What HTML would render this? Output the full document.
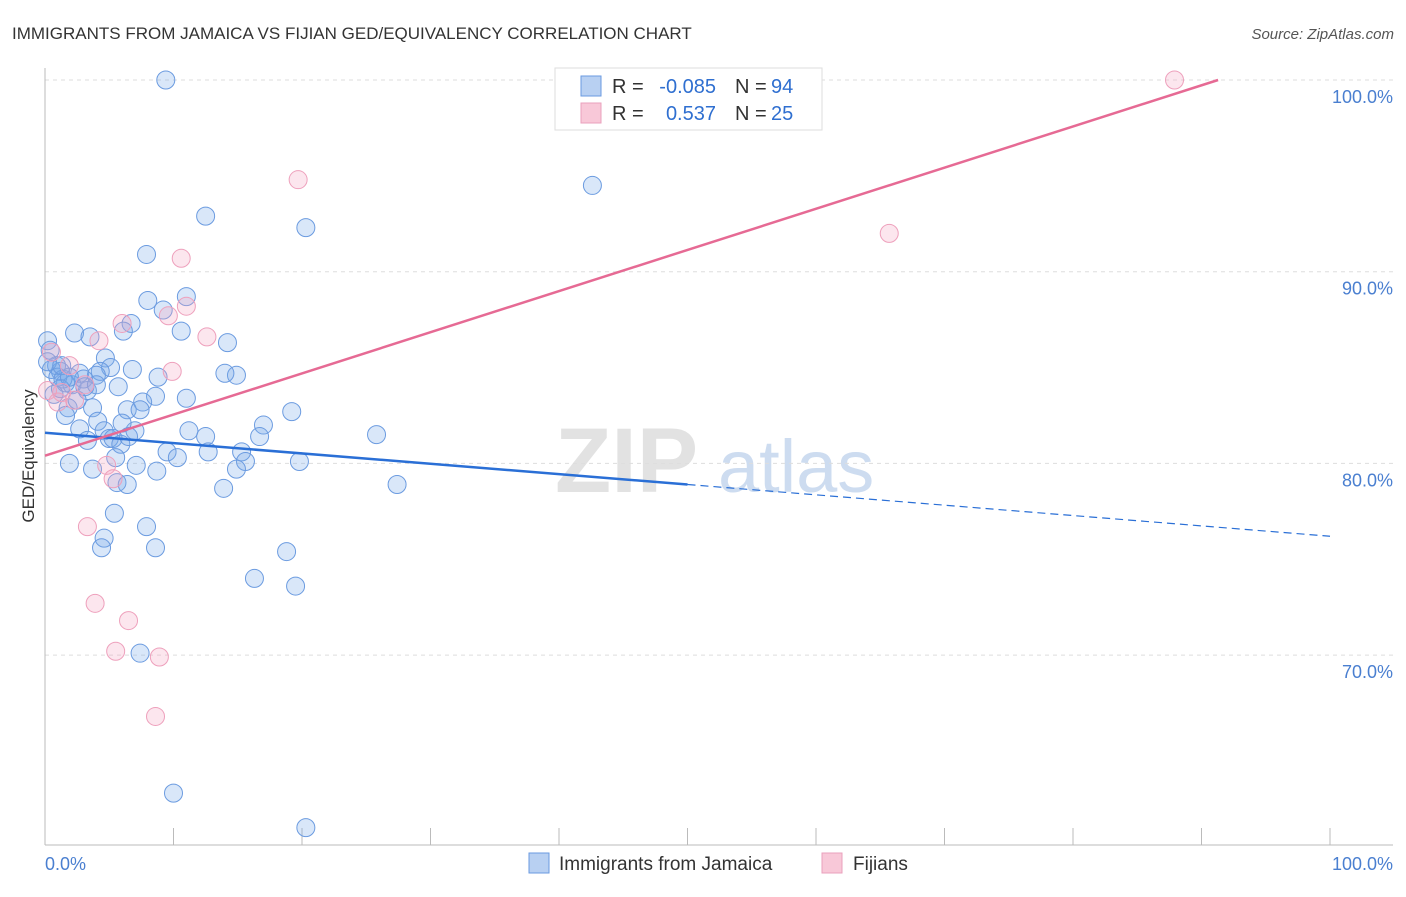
<!DOCTYPE html>
<html><head><meta charset="utf-8"><style>
body{margin:0;background:#fff;font-family:"Liberation Sans",sans-serif}
svg text{font-family:"Liberation Sans",sans-serif}
</style></head><body>
<svg id="c" width="1406" height="892" viewBox="0 0 1406 892">
<text x="12" y="39" font-size="17" fill="#333">IMMIGRANTS FROM JAMAICA VS FIJIAN GED/EQUIVALENCY CORRELATION CHART</text>
<text x="1394" y="39" font-size="15" fill="#555" font-style="italic" text-anchor="end">Source: ZipAtlas.com</text>
<text x="555" y="492" font-size="92" fill="#e2e2e2" font-weight="bold">ZIP</text>
<text x="718" y="492" font-size="74" fill="#cddcf0">atlas</text>
<g id="grid"></g><g id="axes"></g><g id="pts"></g><g id="lines"></g>
<text transform="translate(34,456) rotate(-90)" font-size="17" fill="#333" text-anchor="middle">GED/Equivalency</text>
<g>
<rect x="555" y="68" width="267" height="62" fill="#fff" stroke="#ddd"/>
<rect x="581" y="76" width="20" height="20" fill="#b8d0f2" stroke="#6a9ae0"/>
<rect x="581" y="103" width="20" height="20" fill="#f8c8d8" stroke="#eaa0bc"/>
<text x="612" y="93" font-size="20" fill="#333">R =</text>
<text x="716" y="93" font-size="20" fill="#2f6fd0" text-anchor="end">-0.085</text>
<text x="735" y="93" font-size="20" fill="#333">N =</text>
<text x="771" y="93" font-size="20" fill="#2f6fd0">94</text>
<text x="612" y="120" font-size="20" fill="#333">R =</text>
<text x="716" y="120" font-size="20" fill="#2f6fd0" text-anchor="end">0.537</text>
<text x="735" y="120" font-size="20" fill="#333">N =</text>
<text x="771" y="120" font-size="20" fill="#2f6fd0">25</text>
</g>
<g>
<rect x="529" y="853" width="20" height="20" fill="#b8d0f2" stroke="#6a9ae0"/>
<text x="559" y="870" font-size="19" fill="#333">Immigrants from Jamaica</text>
<rect x="822" y="853" width="20" height="20" fill="#f8c8d8" stroke="#eaa0bc"/>
<text x="853" y="870" font-size="19" fill="#333">Fijians</text>
</g>
</svg>
<script>
const blueX=[9.4,42.6,12.5,20.3,7.9,8.0,11.0,9.2,6.7,6.1,10.6,2.3,3.5,14.2,0.2,0.4,4.7,6.8,5.1,0.9,1.2,4.3,8.8,14.9,14.0,2.7,4.0,1.6,3.0,2.1,3.3,5.7,8.6,7.6,11.0,1.8,3.7,6.4,7.4,1.6,4.1,17.0,19.2,25.8,2.7,4.6,7.0,6.0,11.2,12.5,16.7,3.3,5.0,5.3,5.9,9.5,12.7,15.3,10.3,1.9,7.1,8.7,15.6,14.9,19.8,3.7,5.5,5.6,6.4,13.9,27.4,5.4,7.9,4.6,4.4,8.6,18.8,16.3,19.5,7.4,10.0,20.3,0.5,1.0,1.4,0.7,1.2,0.2,2.5,1.3,1.9,3.1,6.5,4.0];
const blueY=[100,94.5,92.9,92.3,90.9,88.5,88.7,88.0,87.3,86.9,86.9,86.8,86.6,86.3,86.4,85.9,85.5,84.9,85.0,85.1,84.8,84.8,84.5,84.6,84.7,84.7,84.6,84.2,84.4,84.1,83.8,84.0,83.5,83.2,83.4,82.9,82.9,82.8,82.8,82.5,82.2,82.0,82.7,81.5,81.8,81.7,81.7,82.1,81.7,81.4,81.4,81.2,81.3,81.3,81.0,80.6,80.6,80.6,80.3,80.0,79.9,79.6,80.1,79.7,80.1,79.7,80.3,79.0,78.9,78.7,78.9,77.4,76.7,76.1,75.6,75.6,75.4,74.0,73.6,70.1,62.8,61.0,84.9,84.5,84.4,83.6,83.9,85.3,83.3,85.1,84.5,84.0,81.4,84.1];
const pinkX=[87.9,19.7,65.7,10.6,11.0,9.6,6.0,12.6,4.2,0.5,9.9,1.9,3.1,1.3,0.2,2.3,1.0,4.8,5.3,3.3,3.9,6.5,5.5,8.9,8.6];
const pinkY=[100,94.8,92.0,90.7,88.2,87.7,87.3,86.6,86.4,85.8,84.8,85.1,84.1,83.7,83.8,83.3,83.2,79.9,79.2,76.7,72.7,71.8,70.2,69.9,66.8];
const blueTrend=[81.6,76.2];
const pinkTrend=[80.4,0.2147];
const yTicks=[100,90,80,70];
const yTickLabels=["100.0%","90.0%","80.0%","70.0%"];
const xTicks=[0,10,20,30,40,50,60,70,80,90,100];

const NS="http://www.w3.org/2000/svg";
const X=v=>45+v*12.85, Y=v=>80+(100-v)*19.17;
function mk(p,t,a){const e=document.createElementNS(NS,t);for(const k in a)e.setAttribute(k,a[k]);document.getElementById(p).appendChild(e);return e;}
yTicks.forEach((v,i)=>{
 const l=mk('grid','line',{x1:45,x2:1393,y1:Y(v),y2:Y(v),stroke:'#ddd','stroke-dasharray':'4,4'});
 
 
 const t=mk('grid','text',{x:1393,y:Y(v)+23,'font-size':18,fill:'#4a7fd0','text-anchor':'end'});
 t.textContent=yTickLabels[i];
 
 
});
const ax=mk('axes','line',{x1:45,x2:45,y1:68,y2:845,stroke:'#bbb'});


const bx=mk('axes','line',{x1:45,x2:1393,y1:845,y2:845,stroke:'#bbb'});


xTicks.forEach(v=>{
 const t=mk('axes','line',{x1:X(v),x2:X(v),y1:828,y2:845,stroke:'#bbb'});
 
 
});
const xl0=mk('axes','text',{x:45,y:870,'font-size':18,fill:'#4a7fd0'});xl0.textContent='0.0%';


const xl1=mk('axes','text',{x:1393,y:870,'font-size':18,fill:'#4a7fd0','text-anchor':'end'});xl1.textContent='100.0%';


blueX.forEach((v,i)=>{
 const c=mk('pts','circle',{cx:X(v),cy:Y(blueY[i]),r:9,fill:'rgba(120,168,235,0.28)',stroke:'#6b9be0','stroke-width':1});
 
 
});
pinkX.forEach((v,i)=>{
 const c=mk('pts','circle',{cx:X(v),cy:Y(pinkY[i]),r:9,fill:'rgba(244,165,195,0.28)',stroke:'#eea0bc','stroke-width':1});
 
 
});
const bm=blueTrend[0]+(blueTrend[1]-blueTrend[0])*0.5;
const b1=mk('lines','line',{x1:X(0),y1:Y(blueTrend[0]),x2:X(50),y2:Y(bm),stroke:'#2a6fd6','stroke-width':2.5});


const b2=mk('lines','line',{x1:X(50),y1:Y(bm),x2:X(100),y2:Y(blueTrend[1]),stroke:'#2a6fd6','stroke-width':1.2,'stroke-dasharray':'8,5'});


const pe=Math.min(100,(100-pinkTrend[0])/pinkTrend[1]);
const p1=mk('lines','line',{x1:X(0),y1:Y(pinkTrend[0]),x2:X(pe),y2:Y(pinkTrend[0]+pinkTrend[1]*pe),stroke:'#e66a94','stroke-width':2.5});


</script>
</body></html>
